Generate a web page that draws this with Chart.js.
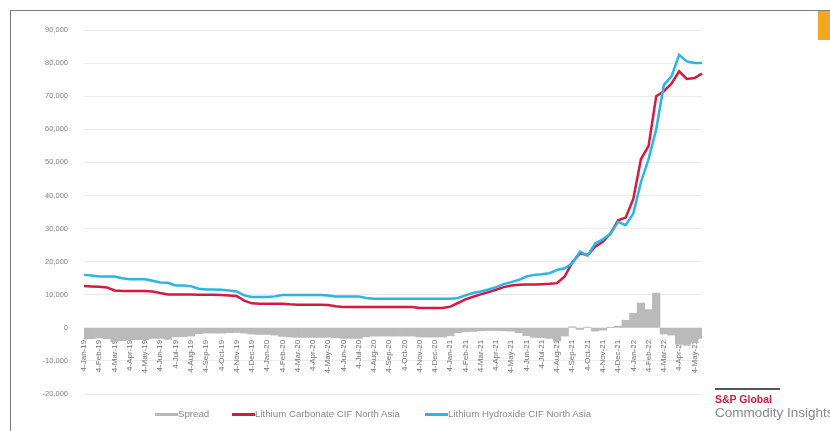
<!DOCTYPE html>
<html>
<head>
<meta charset="utf-8">
<script src="https://cdn.jsdelivr.net/npm/chart.js@4.4.1/dist/chart.umd.min.js"></script>
<style>
  html, body { margin: 0; padding: 0; background: #fff; }
  #wrap { position: relative; width: 830px; height: 431px; overflow: hidden; font-family: 'Liberation Sans', Arial, sans-serif; }
  #frame { position: absolute; left: 10px; top: 10px; width: 840px; height: 440px; border-top: 1.5px solid #7c7c7c; border-left: 1.5px solid #7c7c7c; }
  #tab { position: absolute; left: 818px; top: 11px; width: 12px; height: 29px; background: #f4a81d; }
  #box { position: absolute; left: 0; top: 0; width: 830px; height: 431px; }
  .lg { position: absolute; top: 408px; font-size: 9.7px; color: #888; line-height: 12px; white-space: nowrap; }
  .sw { position: absolute; top: 413px; height: 2.5px; width: 23px; }
  #logo { position: absolute; left: 715px; top: 388px; }
  #logo .bar { width: 65px; height: 2px; background: #555; }
  #logo .sp { color: #d6193e; font-weight: bold; font-size: 10.5px; line-height: 12px; margin-top: 3px; }
  #logo .ci { color: #888; font-size: 13.5px; line-height: 15px; white-space: nowrap; }
</style>
</head>
<body>
<div id="wrap">
  <div id="frame"></div>
  <div id="tab"></div>
  <div id="box"><canvas id="chart"></canvas></div>
  <div class="sw" style="left:155px;background:#b8b8b8"></div>
  <div class="lg" style="left:178px">Spread</div>
  <div class="sw" style="left:232px;background:#d7193f"></div>
  <div class="lg" style="left:255px">Lithium Carbonate CIF North Asia</div>
  <div class="sw" style="left:425px;background:#2bb5e6"></div>
  <div class="lg" style="left:448px">Lithium Hydroxide CIF North Asia</div>
  <div id="logo">
    <div class="bar"></div>
    <div class="sp">S&amp;P Global</div>
    <div class="ci">Commodity Insights</div>
  </div>
</div>
<script>
// half-monthly assessment dates
var dates = [
  '4-Jan-19','18-Jan-19','4-Feb-19','18-Feb-19','4-Mar-19','18-Mar-19','4-Apr-19','18-Apr-19','4-May-19','18-May-19','4-Jun-19','18-Jun-19',
  '4-Jul-19','18-Jul-19','4-Aug-19','18-Aug-19','4-Sep-19','18-Sep-19','4-Oct-19','18-Oct-19','4-Nov-19','18-Nov-19','4-Dec-19','18-Dec-19',
  '4-Jan-20','18-Jan-20','4-Feb-20','18-Feb-20','4-Mar-20','18-Mar-20','4-Apr-20','18-Apr-20','4-May-20','18-May-20','4-Jun-20','18-Jun-20',
  '4-Jul-20','18-Jul-20','4-Aug-20','18-Aug-20','4-Sep-20','18-Sep-20','4-Oct-20','18-Oct-20','4-Nov-20','18-Nov-20','4-Dec-20','18-Dec-20',
  '4-Jan-21','18-Jan-21','4-Feb-21','18-Feb-21','4-Mar-21','18-Mar-21','4-Apr-21','18-Apr-21','4-May-21','18-May-21','4-Jun-21','18-Jun-21',
  '4-Jul-21','18-Jul-21','4-Aug-21','18-Aug-21','4-Sep-21','18-Sep-21','4-Oct-21','18-Oct-21','4-Nov-21','18-Nov-21','4-Dec-21','18-Dec-21',
  '4-Jan-22','18-Jan-22','4-Feb-22','18-Feb-22','4-Mar-22','18-Mar-22','4-Apr-22','18-Apr-22','4-May-22','18-May-22'
];

// $/t
var hydroxide = [
  16000,15800,15500,15500,15500,15000,14700,14700,14700,14200,13700,13600,
  12800,12800,12600,11800,11600,11600,11500,11300,11000,9800,9300,9300,
  9300,9500,9900,9900,9900,9900,9900,9900,9800,9500,9500,9500,
  9500,9000,8800,8800,8800,8800,8800,8800,8800,8800,8800,8800,
  8800,9000,9800,10500,11000,11600,12300,13200,13800,14500,15500,16000,
  16200,16500,17500,18000,19500,23000,21800,25500,26700,28400,32000,31000,
  34600,44000,51000,60000,73400,76000,82500,80500,80000,80000
];
var carbonate = [
  12600,12500,12400,12200,11300,11100,11100,11100,11100,11000,10500,10100,
  10100,10100,10100,10000,10000,10000,9900,9800,9600,8200,7400,7300,
  7300,7300,7300,7100,7000,7000,7000,7000,6900,6500,6300,6300,
  6300,6300,6300,6300,6300,6300,6300,6300,6000,6000,6000,6000,
  6400,7500,8600,9400,10100,10800,11500,12300,12800,13000,13100,13100,
  13200,13300,13500,15500,19800,22500,22000,24500,26000,28500,32500,33300,
  39000,51000,55000,70000,71500,73800,77500,75200,75500,76800
];
var spread = [
  -3400,-3300,-3100,-3300,-4200,-3900,-3600,-3600,-3600,-3200,-3200,-3500,
  -2700,-2700,-2500,-1800,-1600,-1600,-1600,-1500,-1400,-1600,-1900,-2000,
  -2000,-2200,-2600,-2800,-2900,-2900,-2900,-2900,-2900,-3000,-3200,-3200,
  -3200,-2700,-2500,-2500,-2500,-2500,-2500,-2500,-2800,-2800,-2800,-2800,
  -2400,-1500,-1200,-1100,-900,-800,-800,-900,-1000,-1500,-2400,-2900,
  -3000,-3200,-4000,-2500,300,-500,200,-1000,-700,100,500,2300,
  4400,7500,5500,10500,-1900,-2200,-5000,-5300,-4500,-3200
];

var font = "'Liberation Sans', Arial, sans-serif";

var chart = new Chart('chart', {
  type: 'line',
  data: {
    labels: dates,
    datasets: [
      {
        type: 'bar',
        label: 'Spread',
        data: spread,
        backgroundColor: '#bababa',
        barPercentage: 1,
        categoryPercentage: 1,
        order: 3
      },
      {
        label: 'Lithium Carbonate CIF North Asia',
        data: carbonate,
        borderColor: '#d7193f',
        backgroundColor: '#d7193f',
        borderWidth: 2.5,
        pointRadius: 0,
        tension: 0,
        order: 2
      },
      {
        label: 'Lithium Hydroxide CIF North Asia',
        data: hydroxide,
        borderColor: '#2bb5e6',
        backgroundColor: '#2bb5e6',
        borderWidth: 2.5,
        pointRadius: 0,
        tension: 0,
        order: 1
      }
    ]
  },
  options: {
    maintainAspectRatio: false,
    animation: false,
    layout: { padding: { top: 30, right: 128, bottom: 37, left: 0 } },
    plugins: {
      legend: { display: false },
      tooltip: { enabled: false }
    },
    scales: {
      x: {
        position: { y: 0 },
        offset: false,
        z: 1,
        grid: { display: false },
        border: { display: false },
        ticks: {
          autoSkip: false,
          minRotation: 90,
          maxRotation: 90,
          padding: 4,
          color: '#6f6f6f',
          font: { family: font, size: 8 },
          callback: (v, i) => i % 2 === 0 ? dates[i] : ''
        }
      },
      y: {
        min: -20000,
        max: 90000,
        afterFit: s => { s.width = 84; },
        grid: { color: '#ebebeb', drawTicks: false },
        border: { display: false },
        ticks: {
          stepSize: 10000,
          padding: 16,
          color: '#808080',
          font: { family: font, size: 7.5 },
          callback: v => v.toLocaleString('en-US')
        }
      }
    }
  }
});
</script>
</body>
</html>
